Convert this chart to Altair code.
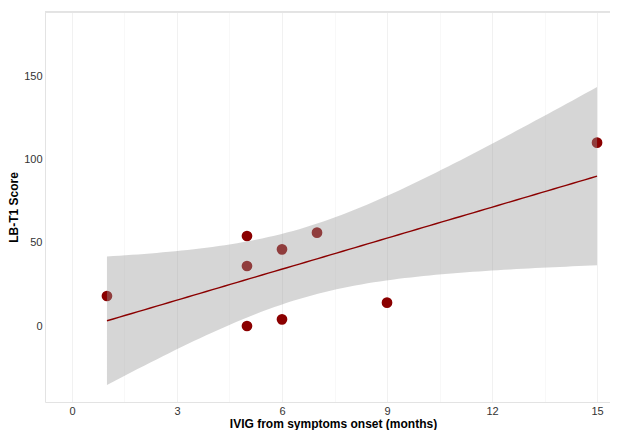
import altair as alt
import numpy as np
import pandas as pd

# data
months = [1, 5, 5, 5, 6, 6, 7, 9, 15]
score = [18, 54, 36, 0, 46, 4, 56, 14, 110]

x_grid = [0, 1.5, 3, 4.5, 6, 7.5, 9, 10.5, 12, 13.5, 15]
y_grid = [-25, 0, 25, 50, 75, 100, 125, 150, 175]

X_MIN, X_MAX = -0.77, 15.37
Y_MIN, Y_MAX = -45.6, 188.4

pts = pd.DataFrame({"x": months, "y": score})

# linear fit with 95% confidence band (as in geom_smooth(method="lm"))
xa = np.array(months, dtype=float)
ya = np.array(score, dtype=float)
n = len(xa)
b1, b0 = np.polyfit(xa, ya, 1)
resid = ya - (b0 + b1 * xa)
s = np.sqrt(np.sum(resid ** 2) / (n - 2))
sxx = np.sum((xa - xa.mean()) ** 2)
t975 = 2.364624  # t quantile, df = 7
gx = np.linspace(xa.min(), xa.max(), 80)
fit = b0 + b1 * gx
se = s * np.sqrt(1.0 / n + (gx - xa.mean()) ** 2 / sxx)
band = pd.DataFrame({"x": gx, "fit": fit, "lo": fit - t975 * se, "hi": fit + t975 * se})

FONT = "Liberation Sans"
BORDER = "#e3e3e3"

xscale = alt.Scale(domain=[X_MIN, X_MAX], nice=False, zero=False)
yscale = alt.Scale(domain=[Y_MIN, Y_MAX], nice=False, zero=False)

xaxis = alt.Axis(
    title="IVIG from symptoms onset (months)",
    values=x_grid,
    labelExpr="datum.value % 3 === 0 ? datum.label : ''",
    ticks=False,
    domain=True,
    domainColor=BORDER,
    domainWidth=1,
    labelPadding=3,
    labelFontSize=11,
    labelColor="#333333",
    labelFont=FONT,
    titleFont=FONT,
    titleFontSize=12,
    titleFontWeight="bold",
    titleColor="#000000",
    titleX=288,
    titleY=25,
    titleAlign="center",
    titleBaseline="alphabetic",
    gridColor={"condition": {"test": "datum.value % 3 === 0", "value": "#f1f1f1"}, "value": "#f8f8f8"},
    gridWidth=1,
)
yaxis = alt.Axis(
    title="LB-T1 Score",
    values=y_grid,
    labelExpr="datum.value % 50 === 0 ? datum.label : ''",
    ticks=False,
    domain=True,
    domainColor=BORDER,
    domainWidth=1,
    labelPadding=3,
    labelFontSize=11,
    labelColor="#333333",
    labelFont=FONT,
    titleFont=FONT,
    titleFontSize=12,
    titleFontWeight="bold",
    titleColor="#000000",
    titleX=-25,
    titleAlign="center",
    titleBaseline="bottom",
    titleAngle=270,
    gridColor={"condition": {"test": "datum.value % 50 === 0", "value": "#f1f1f1"}, "value": "#f8f8f8"},
    gridWidth=1,
)

points = alt.Chart(pts).mark_circle(size=115, opacity=1, color="#8B0000").encode(
    x=alt.X("x:Q", scale=xscale, axis=xaxis),
    y=alt.Y("y:Q", scale=yscale, axis=yaxis),
)

ribbon = alt.Chart(band).mark_area(color="#999999", opacity=0.4).encode(
    x=alt.X("x:Q", scale=xscale),
    y=alt.Y("lo:Q", scale=yscale),
    y2="hi:Q",
)

line = alt.Chart(band).mark_line(color="#8B0000", strokeWidth=1.4).encode(
    x=alt.X("x:Q", scale=xscale),
    y=alt.Y("fit:Q", scale=yscale),
)

# top edge of the panel border
top_edge = alt.Chart(pts).mark_rule(color=BORDER, strokeWidth=1).encode(
    y=alt.datum(Y_MAX, scale=yscale),
)

chart = (
    alt.layer(top_edge, points, ribbon, line)
    .properties(
        width=565,
        height=390,
        autosize=alt.AutoSizeParams(type="none"),
        padding={"left": 37, "top": 4, "right": 0, "bottom": 28},
        background="white",
    )
    .configure_view(stroke=None)
)

chart.save("out.html", embed_options={"renderer": "svg", "actions": False})
